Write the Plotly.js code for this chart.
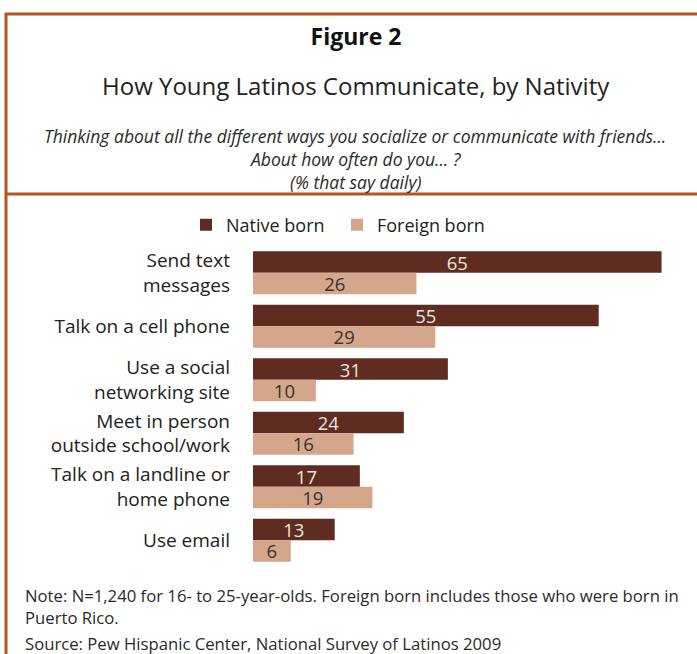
<!DOCTYPE html>
<html>
<head>
<meta charset="utf-8">
<script src="https://cdn.plot.ly/plotly-3.0.1.min.js"></script>
<style>html,body{margin:0;padding:0;background:#fff;}#chart{width:697px;height:654px;}</style>
</head>
<body>
<div id="chart"></div>
<script>
var categories = ["Send text<br>messages", "Talk on a cell phone", "Use a social<br>networking site", "Meet in person<br>outside school/work", "Talk on a landline or<br>home phone", "Use email"];
var nativeBorn = [65, 55, 31, 24, 17, 13];
var foreignBorn = [26, 29, 10, 16, 19, 6];
var seriesNames = ["Native born", "Foreign born"];

var W = 697, H = 654;
var L = 253, R = 4, T = 246, B = 87;
var pw = W - L - R, ph = H - T - B;
function px2x(px){ return (px - L) / pw; }
function py2y(py){ return (H - B - py) / ph; }

var FONT = "Open Sans, sans-serif";
var BORDER = "#b5541f";

var traces = [
  {type:"bar", orientation:"h", name:seriesNames[0], y:categories, x:nativeBorn,
   marker:{color:"#5e2c21"}, text:nativeBorn.map(String), textposition:"inside",
   insidetextanchor:"middle", textangle:0, constraintext:"none",
   insidetextfont:{family:FONT, size:18.5, color:"#efe4de"}, hoverinfo:"x+name"},
  {type:"bar", orientation:"h", name:seriesNames[1], y:categories, x:foreignBorn,
   marker:{color:"#d4a68b"}, text:foreignBorn.map(String), textposition:"inside",
   insidetextanchor:"middle", textangle:0, constraintext:"none",
   insidetextfont:{family:FONT, size:18.5, color:"#3a3330"}, hoverinfo:"x+name"}
];

function ann(text, xpx, ypx, size, opts){
  var a = {text:text, xref:"paper", yref:"paper", x:px2x(xpx), y:py2y(ypx),
    xanchor:"center", yanchor:"middle", showarrow:false,
    font:{family:FONT, size:size, color:"#2a2a2a"}};
  for (var k in opts) a[k] = opts[k];
  return a;
}

var layout = {
  width:W, height:H,
  margin:{l:L, r:R, t:T, b:B, pad:0},
  paper_bgcolor:"#fff", plot_bgcolor:"#fff",
  barmode:"group", bargap:0.2, bargroupgap:0,
  title:{text:"<b>Figure 2</b>", x:356/W, xref:"container", xanchor:"center",
         y:1-37/H, yref:"container", yanchor:"middle",
         font:{family:FONT, size:23, color:"#111"}},
  xaxis:{range:[0,70], showticklabels:false, showgrid:false, zeroline:false, showline:false, fixedrange:true},
  yaxis:{autorange:"reversed", showgrid:false, zeroline:false, showline:false, ticks:"",
         ticklabelstandoff:22, tickfont:{family:FONT, size:19, color:"#222"}, fixedrange:true},
  showlegend:true,
  legend:{orientation:"h", xref:"container", yref:"container", x:186/W, y:1-225/H,
          xanchor:"left", yanchor:"middle", font:{family:FONT, size:18, color:"#222"},
          traceorder:"normal", entrywidth:106, entrywidthmode:"pixels", itemwidth:30},
  annotations:[
    ann("How Young Latinos Communicate, by Nativity", 356, 85, 24, {font:{family:FONT, size:24, color:"#222"}}),
    ann("<i>Thinking about all the different ways you socialize or communicate with friends…</i>", 355, 136, 17.5, {}),
    ann("<i>About how often do you… ?</i>", 355, 159, 17.5, {}),
    ann("<i>(% that say daily)</i>", 355, 182, 17.5, {}),
    ann("Note: N=1,240 for 16- to 25-year-olds. Foreign born includes those who were born in", 23, 595, 16.7, {xanchor:"left"}),
    ann("Puerto Rico.", 23, 617, 16.7, {xanchor:"left"}),
    ann("Source: Pew Hispanic Center, National Survey of Latinos 2009", 23, 643, 16.7, {xanchor:"left"})
  ],
  shapes:[
    {type:"line", xref:"paper", yref:"paper", x0:px2x(5), x1:px2x(700), y0:py2y(14), y1:py2y(14), line:{color:BORDER, width:3}},
    {type:"line", xref:"paper", yref:"paper", x0:px2x(5), x1:px2x(700), y0:py2y(194), y1:py2y(194), line:{color:BORDER, width:3}},
    {type:"line", xref:"paper", yref:"paper", x0:px2x(6), x1:px2x(6), y0:py2y(13), y1:py2y(660), line:{color:BORDER, width:3}}
  ]
};

Plotly.newPlot("chart", traces, layout, {displayModeBar:false, staticPlot:true});
</script>
</body>
</html>
